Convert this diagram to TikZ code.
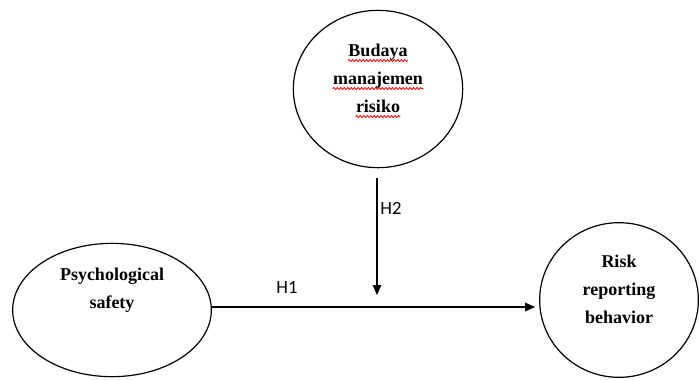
\documentclass[tikz,border=0pt]{standalone}
\usepackage{fontspec}
\setmainfont{Liberation Serif}
\newfontfamily\hfont{Carlito}
\usetikzlibrary{arrows.meta,positioning,shapes.geometric,decorations.pathmorphing}
\newcommand{\redwave}[1]{\tikz[baseline=(w.base)]{\node[inner sep=0pt] (w) {#1};\draw[red,line width=0.6pt,decorate,decoration={snake,amplitude=0.8pt,segment length=2.6pt}] ([yshift=-3pt]w.base west) -- ([yshift=-3pt]w.base east);}}
\begin{document}
\begin{tikzpicture}[x=0.75pt,y=-0.75pt, every node/.style={font=\bfseries\fontsize{13.5}{21}\selectfont}, var/.style={draw,line width=0.9pt,ellipse,inner sep=0pt}, txt/.style={align=center}, hyp/.style={font=\hfont\fontsize{14}{16}\selectfont,inner sep=0pt}, arr/.style={-{Triangle[length=7.5pt,width=6.5pt]},line width=0.8pt}]
\useasboundingbox (0,0) rectangle (699,379);
\node[var,minimum width=127pt,minimum height=118pt] (budaya) at (378,89) {};
\node[var,minimum width=149pt,minimum height=100pt] (psych) at (112,310) {};
\node[var,minimum width=119pt,minimum height=116pt] (risk) at (619,300) {};
\node[txt] (budayatxt) at ([yshift=6pt]budaya.center) {\redwave{Budaya}\\\redwave{manajemen}\\\redwave{risiko}};
\node[txt] (psychtxt) at ([yshift=15pt]psych.center) {Psychological\\safety};
\node[txt] (risktxt) at ([yshift=8pt]risk.center) {Risk\\reporting\\behavior};
\coordinate (meet) at (377,307);
\draw[arr,shorten >=3pt] (psych.east |- meet) -- (risk.west |- meet);
\draw[arr,shorten <=7pt,shorten >=9pt] (budaya.south -| meet) -- (meet);
\node[hyp] (h1) at (287,287) {H1};
\node[hyp] (h2) at (391,208) {H2};
\end{tikzpicture}
\end{document}
